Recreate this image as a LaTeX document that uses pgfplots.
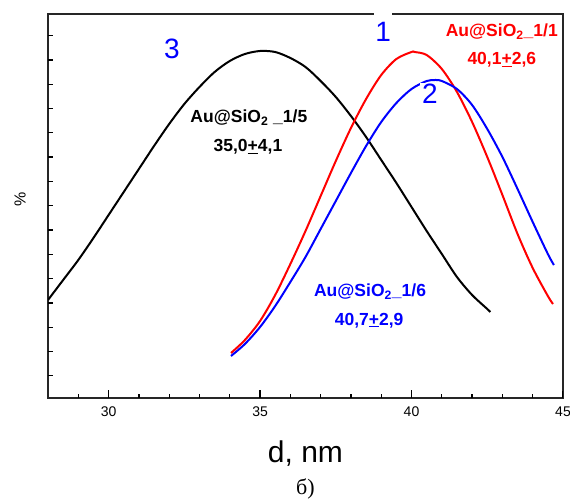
\documentclass[border=0pt]{standalone}
\usepackage{fontspec}
\setmainfont{Liberation Sans}
\newfontfamily\seriffont{Liberation Serif}
\usepackage{pgfplots}
\pgfplotsset{compat=1.18}
\newcommand\fs[1]{\fontsize{#1bp}{#1bp}\selectfont}
\definecolor{cRed}{RGB}{255,0,0}
\definecolor{cBlue}{RGB}{0,0,255}

\begin{document}
\begin{tikzpicture}
\useasboundingbox (-48bp,-101bp) rectangle (522bp,398bp);
\begin{axis}[
  name=ax,
  at={(0,0)}, anchor=south west,
  scale only axis,
  width=515bp, height=384bp,
  xmin=28, xmax=45,
  ymin=0, ymax=384,
  xtick={30,35,40,45},
  xticklabels={30,35,40,45},
  minor xtick={29,31,32,33,34,36,37,38,39,41,42,43,44},
  ytick=\empty,
  extra y ticks={22.2,46.5,70.8,95.1,119.4,143.7,168,192.3,216.6,240.9,265.2,289.5,313.8,338.1,362.4},
  extra y tick labels={},
  extra y tick style={major tick length=4.5bp},
  tick align=inside,
  xtick pos=left, ytick pos=left,
  major tick length=7.5bp, minor tick length=4.5bp,
  every tick/.style={draw=black, line width=1.3bp},
  axis line style={black!85, line width=1.2bp},
  x tick label style={font=\fs{14}, yshift=-5bp},
  clip mode=individual,
]
% tick marks on the bottom axis (drawn as combs, 1 y unit = 1bp)
\addplot[black, line width=1.3bp, ycomb, forget plot] coordinates {
  (29,4.5) (31,4.5) (32,4.5) (33,4.5) (34,4.5) (36,4.5) (37,4.5) (38,4.5)
  (39,4.5) (41,4.5) (42,4.5) (43,4.5) (44,4.5)
};
\addplot[black, line width=1.3bp, ycomb, forget plot] coordinates {
  (30,7.5) (35,7.5) (40,7.5) (44.98,7.5)
};
% 3: Au@SiO2_1/5
\addplot[black, line width=2bp, smooth] coordinates {
  (28,98) (28.5,118) (29,138) (29.5,160) (30,183) (30.5,206) (31,229)
  (31.5,252) (32,274) (32.5,294) (33,311) (33.5,326) (34,337) (34.5,344)
  (35,347) (35.5,346) (36,340) (36.5,331) (37,317) (37.5,301) (38,282)
  (38.5,261) (39,238) (39.5,215) (40,191) (40.5,167) (41,144) (41.5,121)
  (42,103) (42.5,89) (42.6,86)
};
% 1: Au@SiO2_1/1
\addplot[cRed, line width=2bp, smooth] coordinates {
  (34.04,45) (34.5,58) (35,77) (35.5,103) (36,134) (36.5,167) (37,202)
  (37.5,237) (38,270) (38.5,299) (39,323) (39.5,339) (40,346) (40.1,346)
  (40.5,343) (41,329) (41.5,306) (42,276) (42.5,241) (43,203) (43.5,164)
  (44,130) (44.5,102) (44.67,94)
};
% 2: Au@SiO2_1/6
\addplot[cBlue, line width=2bp, smooth] coordinates {
  (34.04,42) (34.5,54) (35,71) (35.5,92) (36,116) (36.5,141) (37,169)
  (37.5,197) (38,225) (38.5,252) (39,276) (39.5,295) (40,309) (40.5,317)
  (40.8,318) (41,317) (41.5,309) (42,293) (42.5,269) (43,241) (43.5,209)
  (44,176) (44.5,144) (44.7,133)
};

% curve numbers
\node[cBlue, font=\fs{28}, anchor=base] at (axis cs:32.09,339.7) {3};
\node[cBlue, font=\fs{28}, anchor=base, fill=white, inner xsep=1.2bp, inner ysep=10bp]
  at (axis cs:39.06,356.3) {1};
\node[cBlue, font=\fs{28}, anchor=base, fill=white, inner xsep=2bp, inner ysep=1bp]
  at (axis cs:40.61,294.7) {2};

% sample labels
\node[cRed, font=\bfseries\fs{17.5}, anchor=base] at (axis cs:42.98,361.5)
  {Au@SiO\textsubscript{2}\_1/1};
\node[cRed, font=\bfseries\fs{17.5}, anchor=base] at (axis cs:42.98,333)
  {40,1\underline{+}2,6};
\node[black, font=\bfseries\fs{17.5}, anchor=base] at (axis cs:34.63,275)
  {Au@SiO\textsubscript{2} \_1/5};
\node[black, font=\bfseries\fs{17.5}, anchor=base] at (axis cs:34.6,246.5)
  {35,0\underline{+}4,1};
\node[cBlue, font=\bfseries\fs{17.5}, anchor=base] at (axis cs:38.63,101.5)
  {Au@SiO\textsubscript{2}\_1/6};
\node[cBlue, font=\bfseries\fs{17.5}, anchor=base] at (axis cs:38.6,73)
  {40,7\underline{+}2,9};
\end{axis}

\node[font=\fs{30}, anchor=base] at ([yshift=-64bp]ax.south) {d, nm};
\node[font=\seriffont\fs{22}, anchor=base] at ([yshift=-96bp]ax.south) {б)};
\node[font=\fs{16}, rotate=90] at ([xshift=-28bp,yshift=7bp]ax.west) {\%};
\end{tikzpicture}
\end{document}
